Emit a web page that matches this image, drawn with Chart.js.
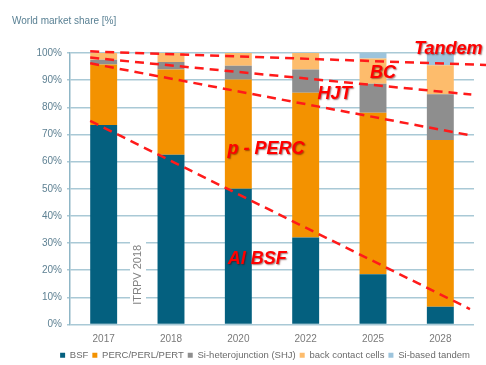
<!DOCTYPE html>
<html>
<head>
<meta charset="utf-8">
<script src="https://cdn.jsdelivr.net/npm/chart.js@4.4.1/dist/chart.umd.min.js"></script>
<style>
  html, body { margin: 0; padding: 0; background: #ffffff; }
  #wrap { width: 486px; height: 365px; }
</style>
</head>
<body>
<div id="wrap"><canvas id="shareChart" width="486" height="365"></canvas></div>
<script>
// categories and stacked shares (%) per cell technology
const years = ["2017", "2018", "2020", "2022", "2025", "2028"];
const bsf = [73.5, 62.5, 50, 32, 18.5, 6.5];
const perc = [22.3, 31.4, 40.2, 53.4, 59.5, 61.5];
const shj = [1.7, 2.8, 5.1, 8.5, 10.7, 16.8];
const backContact = [2.5, 3.3, 4.7, 6.1, 9.3, 10.7];
const tandem = [0, 0, 0, 0, 2, 4.5];
const yTicks = [0, 10, 20, 30, 40, 50, 60, 70, 80, 90, 100];

// trend lines: [category index, share %] endpoints
const alBsfTrend = [[-0.2, 75], [5.44, 5.7]];
const percTrend = [[-0.2, 96.2], [5.46, 69.6]];
const hjtTrend = [[-0.2, 98.3], [5.46, 84.7]];
const tandemTrend = [[-0.2, 100.6], [5.68, 95.6]];

// trend labels: text, category index, share %
const trendLabels = [
  ["Al BSF", 2.28, 24.2],
  ["p - PERC", 2.41, 64.8],
  ["HJT", 3.43, 84.8],
  ["BC", 4.15, 92.5],
  ["Tandem", 5.12, 101.4],
];
const sourceNote = ["ITRPV 2018", 0.51, 18.3];

Chart.defaults.font.family = "'Liberation Sans', Arial, sans-serif";

const trendPlugin = {
  id: "trendPlugin",
  afterDatasetsDraw(chart) {
    const ctx = chart.ctx;
    const x = chart.scales.x;
    const y = chart.scales.y;

    // source note, rotated, with a white backing over the grid
    ctx.save();
    ctx.translate(x.getPixelForValue(sourceNote[1]), y.getPixelForValue(sourceNote[2]));
    ctx.rotate(-Math.PI / 2);
    ctx.font = "11px 'Liberation Sans', Arial, sans-serif";
    const w = ctx.measureText(sourceNote[0]).width;
    ctx.fillStyle = "#ffffff";
    ctx.fillRect(-w / 2 - 3, -8, w + 6, 16);
    ctx.fillStyle = "#808080";
    ctx.textAlign = "center";
    ctx.textBaseline = "middle";
    ctx.fillText(sourceNote[0], 0, 0);
    ctx.restore();

    // dashed trend lines
    ctx.save();
    ctx.strokeStyle = "#ff1a1a";
    ctx.lineWidth = 2.5;
    ctx.setLineDash([9, 6]);
    [alBsfTrend, percTrend, hjtTrend, tandemTrend].forEach((line) => {
      ctx.beginPath();
      ctx.moveTo(x.getPixelForValue(line[0][0]), y.getPixelForValue(line[0][1]));
      ctx.lineTo(x.getPixelForValue(line[1][0]), y.getPixelForValue(line[1][1]));
      ctx.stroke();
    });
    ctx.restore();

    // technology labels
    ctx.save();
    ctx.font = "italic bold 18px 'Liberation Sans', Arial, sans-serif";
    ctx.textAlign = "center";
    ctx.textBaseline = "middle";
    ctx.fillStyle = "#ff0000";
    ctx.shadowColor = "rgba(90, 0, 0, 0.55)";
    ctx.shadowOffsetX = 1;
    ctx.shadowOffsetY = 1;
    ctx.shadowBlur = 1.5;
    trendLabels.forEach((lbl) => {
      ctx.fillText(lbl[0], x.getPixelForValue(lbl[1]), y.getPixelForValue(lbl[2]));
    });
    ctx.restore();
  },
};

function makeSet(label, data, color) {
  return {
    label: label,
    data: data,
    backgroundColor: color,
    borderWidth: 0,
    barPercentage: 0.4,
    categoryPercentage: 1,
  };
}

const ctx = document.getElementById("shareChart").getContext("2d");
new Chart(ctx, {
  type: "bar",
  data: {
    labels: years,
    datasets: [
      makeSet("BSF", bsf, "#04607f"),
      makeSet("PERC/PERL/PERT", perc, "#f39200"),
      makeSet("Si-heterojunction (SHJ)", shj, "#8e8e8e"),
      makeSet("back contact cells", backContact, "#fdbc6c"),
      makeSet("Si-based tandem", tandem, "#9dc4dc"),
    ],
  },
  options: {
    responsive: false,
    animation: false,
    layout: {
      // legend item spacing also pads it vertically; pull it back down
      padding: { left: 12, right: 12, top: 0, bottom: -5 },
    },
    plugins: {
      title: {
        display: true,
        text: "World market share [%]",
        align: "start",
        color: "#5a8194",
        font: { size: 10, weight: "normal" },
        padding: { top: 15, bottom: 26 },
      },
      legend: {
        position: "bottom",
        align: "end",
        labels: {
          boxWidth: 5,
          boxHeight: 5,
          padding: 4,
          color: "#6b6b6b",
          font: { size: 9.5 },
        },
      },
      tooltip: { enabled: false },
    },
    scales: {
      x: {
        stacked: true,
        grid: { display: false },
        border: { display: false },
        ticks: {
          color: "#7a7a7a",
          font: { size: 10 },
          padding: 1,
        },
      },
      y: {
        stacked: true,
        min: 0,
        max: 100,
        afterFit(scale) {
          scale.width = 58;
        },
        afterBuildTicks(scale) {
          scale.ticks = yTicks.map((v) => ({ value: v }));
        },
        grid: {
          color: "#a9c9d6",
          lineWidth: 1.5,
          tickLength: 3,
        },
        border: { display: true, color: "#8fb6c6", width: 1.5 },
        ticks: {
          color: "#5e8193",
          font: { size: 10 },
          padding: 5,
          callback: (v) => v + "%",
        },
      },
    },
  },
  plugins: [trendPlugin],
});
</script>
</body>
</html>
